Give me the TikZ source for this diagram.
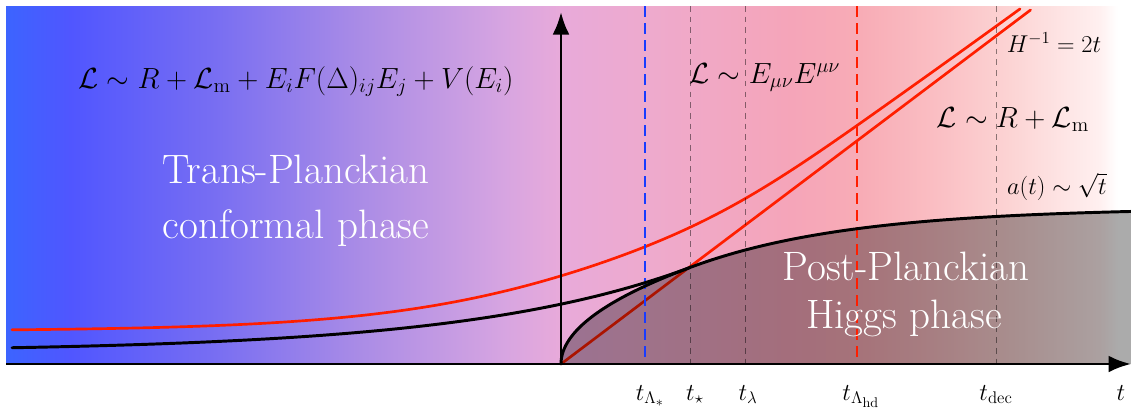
\documentclass[tikz,border=0pt]{standalone}
\usetikzlibrary{arrows.meta}
\definecolor{g0}{RGB}{60,100,255}
\definecolor{g1}{RGB}{80,86,255}
\definecolor{g2}{RGB}{120,110,242}
\definecolor{g3}{RGB}{170,140,230}
\definecolor{g4}{RGB}{215,165,225}
\definecolor{g5}{RGB}{232,170,218}
\definecolor{g6}{RGB}{238,170,205}
\definecolor{g7}{RGB}{245,165,185}
\definecolor{g8}{RGB}{248,172,182}
\definecolor{g9}{RGB}{250,190,195}
\definecolor{g10}{RGB}{252,212,212}
\definecolor{g11}{RGB}{255,240,240}
\definecolor{g12}{RGB}{255,255,255}
\definecolor{lred}{RGB}{255,30,0}
\definecolor{lblue}{RGB}{25,60,255}
\tikzset{
  redline/.style={draw=lred, line width=1.9pt, line cap=round},
  blkline/.style={draw=black, line width=2.1pt, line cap=round},
  axisline/.style={draw=black, line width=2.1pt, -{Latex[length=16pt,width=12pt]}},
  bluedash/.style={draw=lblue, line width=1.4pt, dash pattern=on 7.8pt off 4.3pt},
  reddash/.style={draw=lred, line width=1.4pt, dash pattern=on 7.8pt off 4.3pt},
  graydash/.style={draw=black, draw opacity=0.45, line width=0.7pt, dash pattern=on 4pt off 3.6pt},
  formula/.style={anchor=base, font=\huge},
  smallformula/.style={anchor=base, font=\LARGE},
  phase/.style={anchor=base, text=white, font=\fontsize{29.2}{34}\selectfont},
  ticklabel/.style={anchor=base, font=\LARGE},
}
\begin{document}
\begin{tikzpicture}[x=0.025cm, y=-0.025cm]
\useasboundingbox (0,0) rectangle (1131,410);
% background gradient
\foreach \xa/\ca/\xb/\cb in {6/g0/70/g1, 70/g1/215/g2, 215/g2/360/g3, 360/g3/505/g4, 505/g4/560/g5, 560/g5/650/g6, 650/g6/790/g7, 790/g7/860/g8, 860/g8/935/g9, 935/g9/1010/g10, 1010/g10/1100/g11, 1100/g11/1117/g12}
  \shade[left color=\ca, right color=\cb] (\xa,6) rectangle ({\xb+0.6},364);
% coordinates
\coordinate (O) at (561,364);
\coordinate (xs) at (6,364);
\coordinate (xe) at (1131,364);
\coordinate (ye) at (561,12);
\coordinate (Hend) at (1030.5,10);
% red curves
\draw[redline] plot[domain=-549:459, samples=160] ({561+\x},{364-(33+100*ln(1+exp((0.754*\x-28)/100))-7*exp(-((\x-175)/130)^2))});
\draw[redline] (O) -- (Hend);
% shaded post-Planckian region
\fill[black, opacity=0.33] plot[domain=0:11.358, samples=60] ({561+\x*\x},{364-8.5*\x})
  -- plot[domain=129:570, samples=80] ({561+\x},{364-(96.54+59.8*(1-exp(-(\x-129)/160)))})
  -- (1131,364) -- cycle;
% vertical markers
\coordinate (bA) at (645,6);   \coordinate (bB) at (645,364);
\coordinate (sA) at (690,6);   \coordinate (sB) at (690,364);
\coordinate (lA) at (745,6);   \coordinate (lB) at (745,364);
\coordinate (hA) at (857,6);   \coordinate (hB) at (857,364);
\coordinate (dA) at (996,6);   \coordinate (dB) at (996,364);
\draw[graydash] (sA) -- (sB);
\draw[graydash] (lA) -- (lB);
\draw[graydash] (dA) -- (dB);
\draw[bluedash] (bA) -- (bB);
\draw[reddash] (hA) -- (hB);
% black curves
\draw[blkline] plot[domain=-549:129, samples=120] ({561+\x},{364-(12+47.86*exp(\x/227))});
\draw[blkline] plot[domain=0:11.358, samples=60] ({561+\x*\x},{364-8.5*\x})
  -- plot[domain=129:570, samples=80] ({561+\x},{364-(96.54+59.8*(1-exp(-(\x-129)/160)))});
% axes
\draw[axisline] (xs) -- (xe);
\draw[axisline] (O) -- (ye);
% texts
\node[formula] (Lpre) at (296,88) {$\mathcal{L}\sim R+\mathcal{L}_{\mathrm{m}}+E_iF(\Delta)_{ij}E_j+V(E_i)$};
\node[phase] (tp1) at (296,183) {Trans-Planckian};
\node[phase] (tp2) at (296,238) {conformal phase};
\node[formula] (Lmid) at (765,83) {$\mathcal{L}\sim E_{\mu\nu}E^{\mu\nu}$};
\node[formula] (Lpost) at (1013,127) {$\mathcal{L}\sim R+\mathcal{L}_{\mathrm{m}}$};
\node[smallformula] (Hlab) at (1054,52) {$H^{-1}=2t$};
\node[smallformula] (alab) at (1057,194) {$a(t)\sim\sqrt{t}$};
\node[phase] (pp1) at (906,280) {Post-Planckian};
\node[phase] (pp2) at (904,328) {Higgs phase};
\node[ticklabel] (t1) at (650,400) {$t_{\Lambda_*}$};
\node[ticklabel] (t2) at (695,400) {$t_\star$};
\node[ticklabel] (t3) at (748,400) {$t_\lambda$};
\node[ticklabel] (t4) at (861,400) {$t_{\Lambda_{\mathrm{hd}}}$};
\node[ticklabel] (t5) at (996,400) {$t_{\mathrm{dec}}$};
\node[ticklabel] (t6) at (1121,400) {$t$};
\end{tikzpicture}
\end{document}
